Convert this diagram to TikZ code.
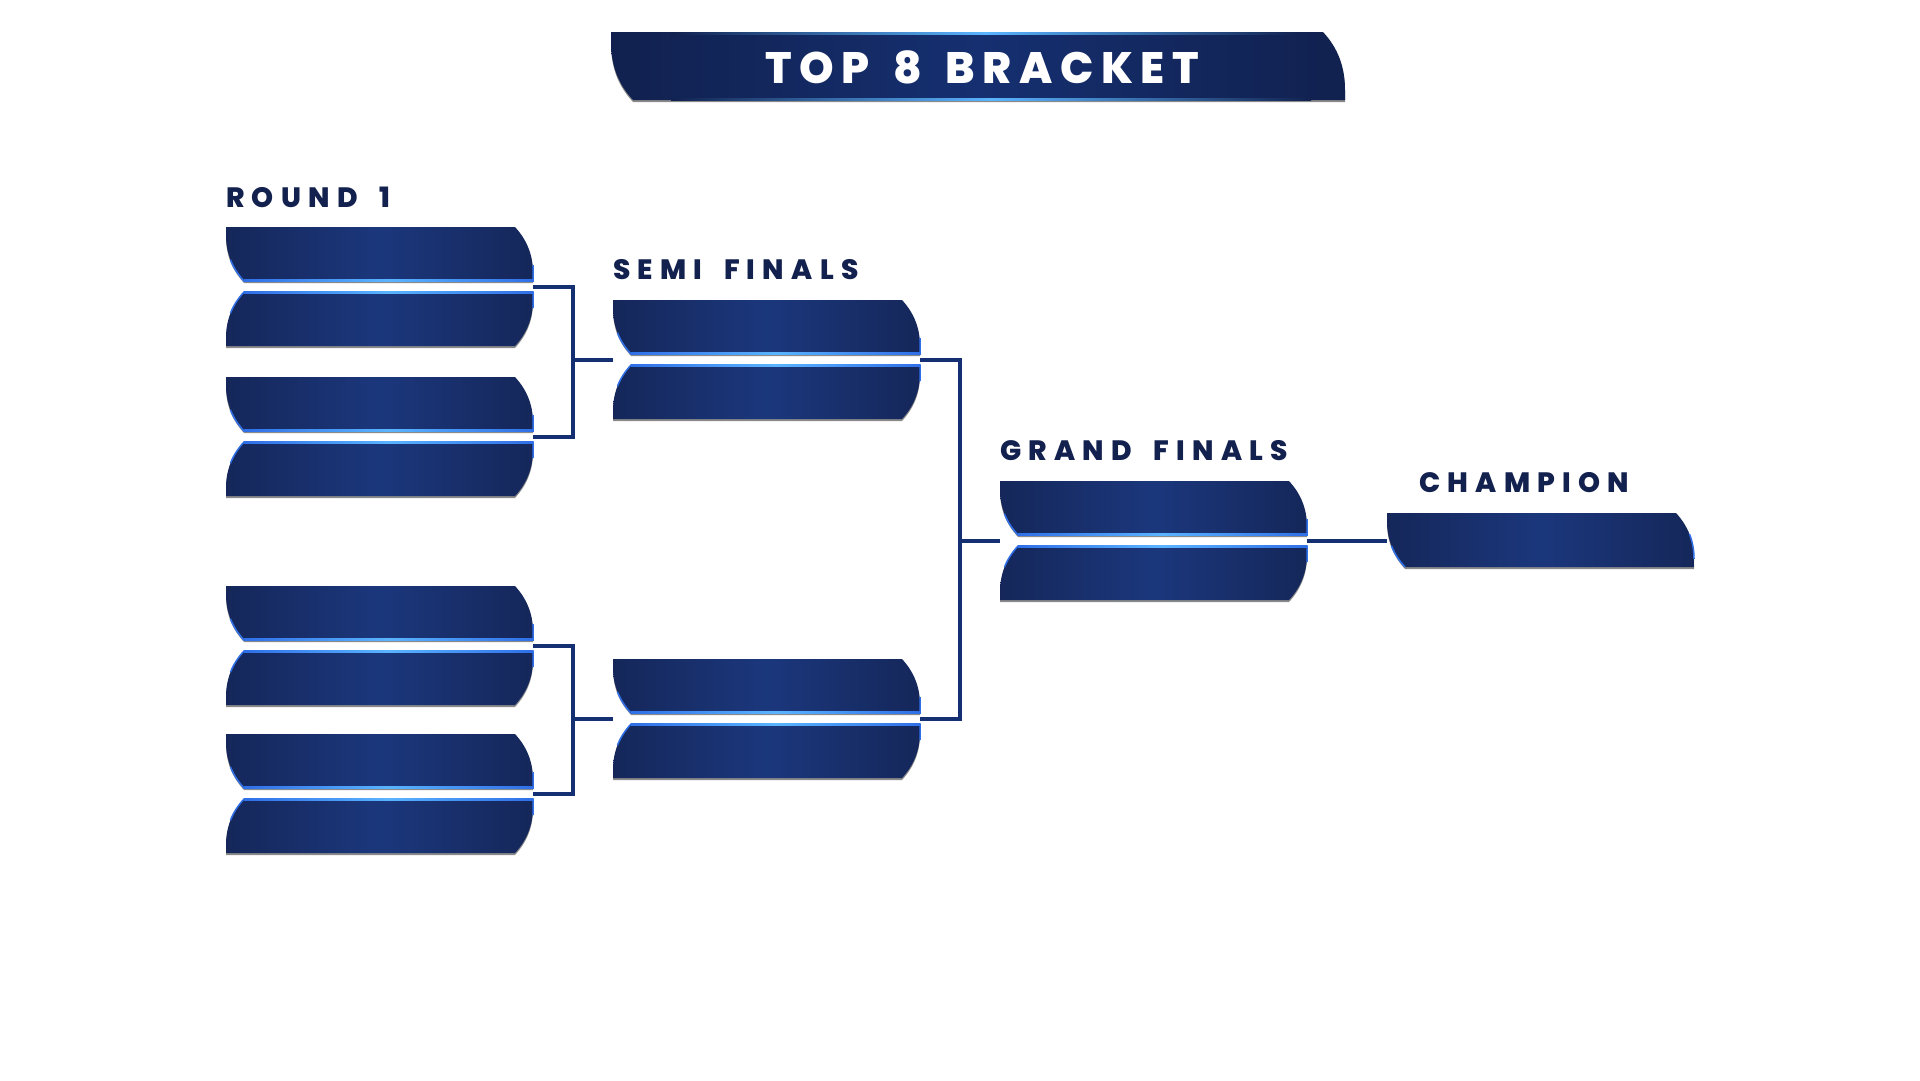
\documentclass[tikz,border=0pt]{standalone}
\usepackage{fontspec}
\setmainfont{Poppins}
\newfontfamily\stagefont{Poppins}[UprightFont={* ExtraBold}, LetterSpace=26, WordSpace=1.7]
\newfontfamily\titlefont{Poppins}[UprightFont={* ExtraBold}, LetterSpace=17, WordSpace=1.5]
\definecolor{slotdark}{HTML}{15275A}
\definecolor{slotmid}{HTML}{1B377C}
\definecolor{bannerdark}{HTML}{11214F}
\definecolor{bannermid}{HTML}{152F70}
\definecolor{glowdark}{HTML}{2F6FE8}
\definecolor{glowlight}{HTML}{5AB4FF}
\definecolor{slotshadow}{HTML}{8A8A8A}
\definecolor{wirenavy}{HTML}{152F73}
\definecolor{labelnavy}{HTML}{13214F}
\tikzset{
	slot/.style={left color=slotdark, right color=slotdark, middle color=slotmid,
		preaction={fill=slotshadow, transform canvas={yshift=-2pt}}},
	glow/.style={draw=glowdark, line width=1.5pt},
	glowline/.style={left color=glowdark, right color=glowdark, middle color=glowlight},
	wire/.style={draw=wirenavy, line width=4pt},
	stagelabel/.style={anchor=base west, inner sep=0pt, text=labelnavy,
		font=\stagefont\fontsize{28}{32}\selectfont}
}
% two slots of one match, top-left corner at (#2,#3)
\newcommand{\matchpair}[3]{%
	\begin{scope}[shift={(#2,#3)}]
		\path[slot] (0,0) -- (289,0) .. controls (301,13) and (307,28) .. (307,46) --
			(307,54) -- (18,54) .. controls (6,41) and (0,26) .. (0,8) -- cycle;
		\draw[glow] (4.5,32.9) .. controls (7.5,40.5) and (12,47.5) .. (18,54) -- (307,54) -- (307,38);
		\shade[glowline] (18,52.5) rectangle (307,54.5);
		\path[slot] (18,65) -- (307,65) -- (307,73) .. controls (307,91) and (301,106) ..
			(289,119) -- (0,119) -- (0,111) .. controls (0,93) and (6,78) .. (18,65) -- cycle;
		\draw[glow] (4.5,86.1) .. controls (7.5,78.5) and (12,71.5) .. (18,65) -- (307,65) -- (307,81);
		\shade[glowline] (18,64.5) rectangle (307,66.5);
		\coordinate (#1-in) at (0,59.5);
		\coordinate (#1-out) at (307,59.5);
	\end{scope}}
\begin{document}
\begin{tikzpicture}[x=1pt, y=-1pt]
	\fill[white] (0,0) rectangle (1920,1080);
	\useasboundingbox (0,0) rectangle (1920,1080);

	\begin{scope}[shift={(611,32)}]
		\path[left color=bannerdark, right color=bannerdark, middle color=bannermid,
			preaction={fill=slotshadow, transform canvas={yshift=-2pt}}]
			(0,0) -- (712,0) .. controls (727,16) and (734,35) .. (734,58) -- (734,68) --
			(22,68) .. controls (7,52) and (0,33) .. (0,10) -- cycle;
		\shade[left color=bannerdark, right color=bannerdark, middle color=glowlight] (60,0) rectangle (690,2);
		\shade[left color=bannerdark, right color=bannerdark, middle color=glowlight] (60,66) rectangle (700,68);
	\end{scope}
	\node[text=white, inner sep=0pt, font=\titlefont\fontsize{44}{48}\selectfont]
		(title) at (982,67) {TOP 8 BRACKET};

	\node[stagelabel] (lbl-round) at (226,207) {ROUND 1};
	\node[stagelabel] (lbl-semi) at (613,279) {SEMI FINALS};
	\node[stagelabel] (lbl-grand) at (1000,460) {GRAND FINALS};
	\node[stagelabel] (lbl-champ) at (1419,492) {CHAMPION};

	\matchpair{r1}{226}{227}
	\matchpair{r2}{226}{377}
	\matchpair{r3}{226}{586}
	\matchpair{r4}{226}{734}
	\matchpair{sf1}{613}{300}
	\matchpair{sf2}{613}{659}
	\matchpair{gf}{1000}{481}

	\begin{scope}[shift={(1387,513)}]
		\path[slot] (0,0) -- (289,0) .. controls (301,13) and (307,28) .. (307,46) --
			(307,54) -- (18,54) .. controls (6,41) and (0,26) .. (0,8) -- cycle;
		\draw[glow] (4.5,32.9) .. controls (7.5,40.5) and (12,47.5) .. (18,54);
		\draw[glow] (302.5,21.1) .. controls (305.5,28.75) and (307,37) .. (307,46);
		\coordinate (champ-in) at (0,27.5);
	\end{scope}

	\coordinate (j1) at ([xshift=-40pt]sf1-in);
	\coordinate (j2) at ([xshift=-40pt]sf2-in);
	\coordinate (j3) at ([xshift=-40pt]gf-in);
	\draw[wire] (r1-out) -| (j1) |- (r2-out);
	\draw[wire] (j1) -- (sf1-in);
	\draw[wire] (r3-out) -| (j2) |- (r4-out);
	\draw[wire] (j2) -- (sf2-in);
	\draw[wire] (sf1-out) -| (j3) |- (sf2-out);
	\draw[wire] (j3) -- (gf-in);
	\draw[wire] (gf-out) -- (gf-out -| champ-in);
\end{tikzpicture}
\end{document}
